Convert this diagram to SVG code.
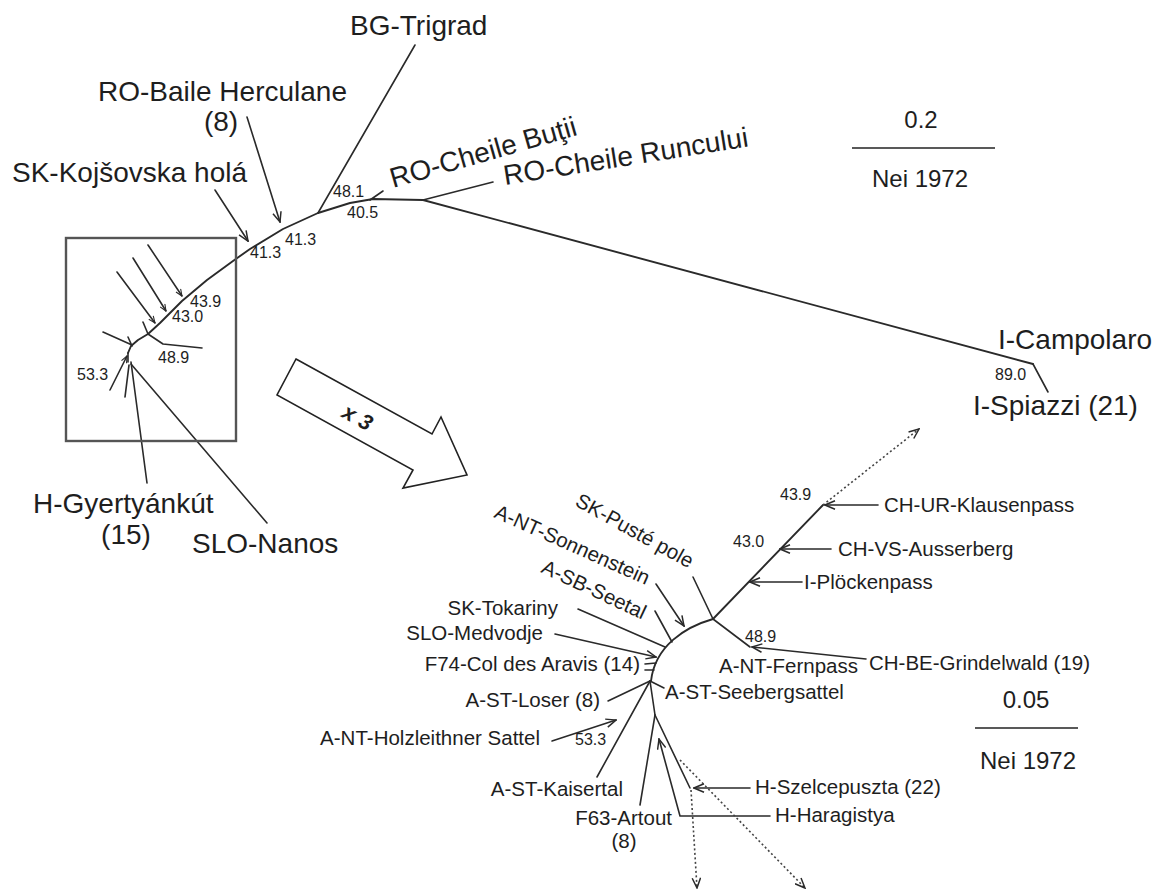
<svg xmlns="http://www.w3.org/2000/svg" width="1160" height="896" viewBox="0 0 1160 896">
<defs>
<style>
.ln{fill:none;stroke:#2a2a2a;stroke-width:1.6;stroke-linejoin:round;stroke-linecap:round}
.bb{fill:none;stroke:#2a2a2a;stroke-width:1.9;stroke-linejoin:round;stroke-linecap:round}
.dot{fill:none;stroke:#444;stroke-width:1.6;stroke-dasharray:2 2.5}
.big{font-family:"Liberation Sans",Arial,sans-serif;font-size:28px;fill:#1e1e1e}
.lab{font-family:"Liberation Sans",Arial,sans-serif;font-size:20.5px;fill:#1e1e1e}
.num{font-family:"Liberation Sans",Arial,sans-serif;font-size:16px;fill:#1e1e1e}
.sc{font-family:"Liberation Sans",Arial,sans-serif;font-size:24px;fill:#1e1e1e}
</style>
<marker id="ah" viewBox="0 0 12 10" refX="11" refY="5" markerWidth="12" markerHeight="10" markerUnits="userSpaceOnUse" orient="auto"><path d="M1,0.8 L11,5 L1,9.2" fill="none" stroke="#2a2a2a" stroke-width="1.5"/></marker>
<marker id="ahs" viewBox="0 0 12 10" refX="11" refY="5" markerWidth="8" markerHeight="7" markerUnits="userSpaceOnUse" orient="auto"><path d="M1,0.8 L11,5 L1,9.2" fill="none" stroke="#2a2a2a" stroke-width="1.6"/></marker>
</defs>
<rect width="1160" height="896" fill="#fff"/>

<!-- connectors -->
<g id="connectors">
  <!-- top tree -->
  <polyline class="bb" points="128,353 131,346 138,340 148,334 160,323 182,301 207,280 233,261 250,249 283,229 318,213 350,203 373,199 423,200"/>
  <line class="ln" x1="370" y1="200" x2="383" y2="191"/>
  <line class="ln" x1="423" y1="200" x2="493" y2="182"/>
  <line class="bb" x1="423" y1="200" x2="1033" y2="364"/>
  <line class="ln" x1="1033" y1="364" x2="1048" y2="392"/>
  <line class="ln" x1="318" y1="213" x2="415" y2="45"/>
  <line class="ln" x1="247" y1="117" x2="280" y2="222" marker-end="url(#ah)"/>
  <line class="ln" x1="215" y1="190" x2="248" y2="241" marker-end="url(#ah)"/>
  <!-- miniature -->
  <line class="ln" x1="148" y1="245" x2="182" y2="296" marker-end="url(#ahs)"/>
  <line class="ln" x1="133" y1="258" x2="166" y2="311" marker-end="url(#ahs)"/>
  <line class="ln" x1="117" y1="272" x2="155" y2="323" marker-end="url(#ahs)"/>
  <line class="ln" x1="143" y1="322" x2="148" y2="334"/>
  <polyline class="ln" points="148,334 163,344 202,348"/>
  <line class="ln" x1="103" y1="332" x2="132" y2="345"/>
  <line class="ln" x1="128" y1="337" x2="132" y2="346"/>
  <line class="ln" x1="128" y1="353" x2="128" y2="362"/>
  <line class="ln" x1="110" y1="390" x2="127" y2="356" marker-end="url(#ahs)"/>
  <line class="ln" x1="125" y1="397" x2="129" y2="365"/>
  <line class="ln" x1="147" y1="483" x2="131" y2="362"/>
  <line class="ln" x1="131" y1="364" x2="267" y2="523"/>

  <!-- enlarged tree -->
  <line class="bb" x1="713" y1="619" x2="823" y2="505"/>
  <line class="dot" x1="823" y1="505" x2="919" y2="429" marker-end="url(#ah)"/>
  <line class="ln" x1="878" y1="505" x2="825" y2="505" marker-end="url(#ah)"/>
  <line class="ln" x1="831" y1="549" x2="780" y2="549" marker-end="url(#ah)"/>
  <line class="ln" x1="802" y1="582" x2="750" y2="582" marker-end="url(#ah)"/>
  <line class="ln" x1="693" y1="577" x2="713" y2="619"/>
  <line class="ln" x1="713" y1="619" x2="750" y2="647"/>
  <line class="ln" x1="866" y1="659" x2="752" y2="647" marker-end="url(#ah)"/>
  <path class="bb" d="M713,619 C685,627 655,646 651,681"/>
  <line class="ln" x1="656" y1="584" x2="684" y2="626" marker-end="url(#ah)"/>
  <line class="ln" x1="655" y1="611" x2="672" y2="642"/>
  <line class="ln" x1="578" y1="609" x2="665" y2="647"/>
  <line class="ln" x1="555" y1="634" x2="656" y2="657" marker-end="url(#ah)"/>
  <line class="ln" x1="645" y1="664" x2="656" y2="663"/>
  <line class="ln" x1="645" y1="670" x2="654" y2="670"/>
  <line class="ln" x1="608" y1="701" x2="650" y2="681"/>
  <line class="ln" x1="552" y1="741" x2="616" y2="720" marker-end="url(#ah)"/>
  <line class="ln" x1="597" y1="777" x2="650" y2="681"/>
  <line class="ln" x1="650" y1="681" x2="664" y2="688"/>
  <line class="ln" x1="650" y1="681" x2="655" y2="715"/>
  <line class="ln" x1="655" y1="715" x2="640" y2="805"/>
  <line class="ln" x1="655" y1="715" x2="690" y2="788"/>
  <line class="ln" x1="750" y1="788" x2="694" y2="788" marker-end="url(#ah)"/>
  <polyline class="ln" points="770,816 680,816 659,739" marker-end="url(#ah)"/>
  <line class="dot" x1="691" y1="790" x2="697" y2="888" marker-end="url(#ah)"/>
  <line class="dot" x1="680" y1="760" x2="805" y2="888" marker-end="url(#ah)"/>
</g>

<!-- frame and magnification arrow -->
<g id="inset-frame">
  <rect x="66" y="238" width="170" height="203" fill="none" stroke="#555" stroke-width="2.4"/>
</g>
<g id="zoom-arrow">
  <polygon points="296,359 432,434 441,417 467,475 403,488 413,470 277,395" fill="#fff" stroke="#222" stroke-width="1.6" stroke-linejoin="miter"/>
  <text transform="translate(354,424) rotate(29)" text-anchor="middle" font-family="'Liberation Sans',Arial,sans-serif" font-size="22" font-weight="bold" font-style="italic" fill="#1e1e1e">x 3</text>
</g>

<!-- top tree labels -->
<g id="n-bg-trigrad"><text class="big" x="350" y="35">BG-Trigrad</text></g>
<g id="n-ro-baile"><text class="big" x="98" y="101">RO-Baile Herculane</text><text class="big" x="221" y="131" text-anchor="middle">(8)</text></g>
<g id="n-sk-kojsovska"><text class="big" x="12" y="182">SK-Kojšovska holá</text></g>
<g id="n-ro-butii"><text class="big" transform="translate(393,188) rotate(-16)">RO-Cheile Buţii</text></g>
<g id="n-ro-runcului"><text class="big" transform="translate(505,185) rotate(-9)">RO-Cheile Runcului</text></g>
<g id="n-i-campolaro"><text class="big" x="998" y="349">I-Campolaro</text></g>
<g id="n-i-spiazzi"><text class="big" x="973" y="415">I-Spiazzi (21)</text></g>
<g id="n-h-gyertyankut"><text class="big" x="33" y="513">H-Gyertyánkút</text><text class="big" x="126" y="544" text-anchor="middle">(15)</text></g>
<g id="n-slo-nanos"><text class="big" x="192" y="553">SLO-Nanos</text></g>
<g id="top-support">
  <text class="num" x="333" y="197">48.1</text>
  <text class="num" x="347" y="218">40.5</text>
  <text class="num" x="285" y="245">41.3</text>
  <text class="num" x="250" y="258">41.3</text>
  <text class="num" x="190" y="307">43.9</text>
  <text class="num" x="172" y="322">43.0</text>
  <text class="num" x="158" y="363">48.9</text>
  <text class="num" x="77" y="380">53.3</text>
  <text class="num" x="995" y="380" font-size="14">89.0</text>
</g>
<g id="scale-top">
  <text class="sc" x="921" y="128" text-anchor="middle">0.2</text>
  <line x1="852" y1="148" x2="995" y2="148" stroke="#222" stroke-width="1.6"/>
  <text class="sc" x="920" y="187" text-anchor="middle">Nei 1972</text>
</g>

<!-- enlarged tree labels -->
<g id="n-ch-ur"><text class="lab" x="884" y="512">CH-UR-Klausenpass</text></g>
<g id="n-ch-vs"><text class="lab" x="838" y="556">CH-VS-Ausserberg</text></g>
<g id="n-i-plocken"><text class="lab" x="804" y="589">I-Plöckenpass</text></g>
<g id="n-ch-be"><text class="lab" x="869" y="670">CH-BE-Grindelwald (19)</text></g>
<g id="n-a-nt-fernpass"><text class="lab" x="719" y="673">A-NT-Fernpass</text></g>
<g id="n-a-st-seeberg"><text class="lab" x="665" y="699">A-ST-Seebergsattel</text></g>
<g id="n-sk-puste"><text class="lab" transform="translate(574,505) rotate(29)">SK-Pusté pole</text></g>
<g id="n-a-nt-sonnen"><text class="lab" transform="translate(493,517) rotate(24)">A-NT-Sonnenstein</text></g>
<g id="n-a-sb-seetal"><text class="lab" transform="translate(540,572) rotate(25)">A-SB-Seetal</text></g>
<g id="n-sk-tokariny"><text class="lab" x="558" y="615" text-anchor="end">SK-Tokariny</text></g>
<g id="n-slo-medvodje"><text class="lab" x="543" y="640" text-anchor="end">SLO-Medvodje</text></g>
<g id="n-f74"><text class="lab" x="640" y="671" text-anchor="end">F74-Col des Aravis (14)</text></g>
<g id="n-a-st-loser"><text class="lab" x="600" y="707" text-anchor="end">A-ST-Loser (8)</text></g>
<g id="n-a-nt-holz"><text class="lab" x="540" y="745" text-anchor="end">A-NT-Holzleithner Sattel</text></g>
<g id="n-a-st-kaisertal"><text class="lab" x="623" y="796" text-anchor="end">A-ST-Kaisertal</text></g>
<g id="n-f63"><text class="lab" x="672" y="825" text-anchor="end">F63-Artout</text><text class="lab" x="624" y="848" text-anchor="middle">(8)</text></g>
<g id="n-h-szelce"><text class="lab" x="755" y="794">H-Szelcepuszta (22)</text></g>
<g id="n-h-haragistya"><text class="lab" x="775" y="822">H-Haragistya</text></g>
<g id="bottom-support">
  <text class="num" x="780" y="500">43.9</text>
  <text class="num" x="733" y="547">43.0</text>
  <text class="num" x="745" y="642">48.9</text>
  <text class="num" x="575" y="745">53.3</text>
</g>
<g id="scale-bottom">
  <text class="sc" x="1026" y="708" text-anchor="middle">0.05</text>
  <line x1="975" y1="728" x2="1078" y2="728" stroke="#222" stroke-width="1.6"/>
  <text class="sc" x="1028" y="769" text-anchor="middle">Nei 1972</text>
</g>
</svg>
